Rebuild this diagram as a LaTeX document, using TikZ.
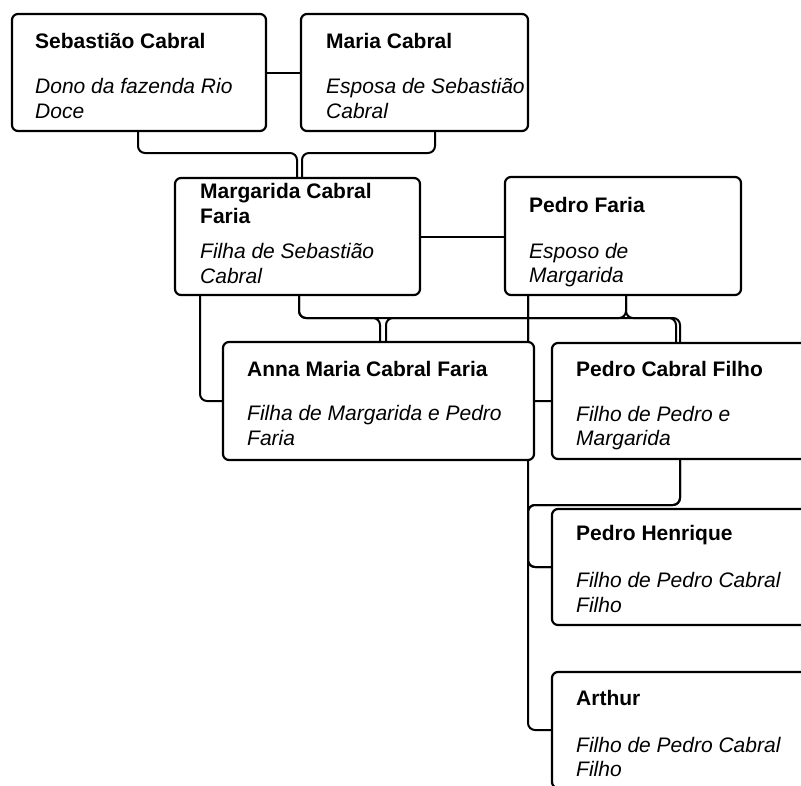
\documentclass[tikz,border=0pt]{standalone}
\usepackage{fontspec}
\setmainfont{Liberation Sans}
\usetikzlibrary{backgrounds}
\tikzset{
  box/.style={draw=black, line width=2.2pt, rounded corners=6pt, fill=white, anchor=north west, inner sep=0pt, outer sep=0pt},
  conn/.style={draw=black, line width=2pt, rounded corners=7pt},
  nm/.style={font=\fontsize{21}{24}\selectfont\bfseries, inner sep=0pt, anchor=base west},
  ds/.style={font=\fontsize{21}{24}\selectfont\itshape, inner sep=0pt, anchor=base west},
}
\begin{document}
\begin{tikzpicture}[x=1pt,y=-1pt]
\useasboundingbox (0,0) rectangle (801,785);
\clip (0,0) rectangle (801,785);
% boxes
\node[box, minimum width=254pt, minimum height=117pt] (seb) at (12,14) {};
\node[box, minimum width=227pt, minimum height=117pt] (maria) at (301,14) {};
\node[box, minimum width=245pt, minimum height=117pt] (marg) at (175,178) {};
\node[box, minimum width=236pt, minimum height=118pt] (pedro) at (505,177) {};
\node[box, minimum width=311pt, minimum height=118pt] (anna) at (223,342) {};
\node[box, minimum width=300pt, minimum height=116pt] (pcf) at (552,343) {};
\node[box, minimum width=300pt, minimum height=116pt] (ph) at (552,509) {};
\node[box, minimum width=300pt, minimum height=116pt] (arthur) at (552,672) {};
% texts
\node[nm] (t1) at (35,48) {Sebastião Cabral};
\node[ds] (t2) at (35,93) {Dono da fazenda Rio};
\node[ds] (t3) at (35,118) {Doce};
\node[nm] (t4) at (326,48) {Maria Cabral};
\node[ds] (t5) at (326,93) {Esposa de Sebastião};
\node[ds] (t6) at (326,118) {Cabral};
\node[nm] (t7) at (200,198) {Margarida Cabral};
\node[nm] (t8) at (200,223) {Faria};
\node[ds] (t9) at (200,258) {Filha de Sebastião};
\node[ds] (t10) at (200,283) {Cabral};
\node[nm] (t11) at (529,212) {Pedro Faria};
\node[ds] (t12) at (529,258) {Esposo de};
\node[ds] (t13) at (529,282) {Margarida};
\node[nm] (t14) at (247,376) {Anna Maria Cabral Faria};
\node[ds] (t15) at (247,420) {Filha de Margarida e Pedro};
\node[ds] (t16) at (247,445) {Faria};
\node[nm] (t17) at (576,376) {Pedro Cabral Filho};
\node[ds] (t18) at (576,421) {Filho de Pedro e};
\node[ds] (t19) at (576,445) {Margarida};
\node[nm] (t20) at (576,540) {Pedro Henrique};
\node[ds] (t21) at (576,587) {Filho de Pedro Cabral};
\node[ds] (t22) at (576,612) {Filho};
\node[nm] (t23) at (576,705) {Arthur};
\node[ds] (t24) at (576,752) {Filho de Pedro Cabral};
\node[ds] (t25) at (576,776) {Filho};
% connectors
\begin{pgfonlayer}{background}
\draw[conn] (seb.east) -- (seb.east -| maria.west);
\draw[conn] (marg.east) -- (marg.east -| pedro.west);
\draw[conn] ([xshift=126pt]seb.south west) -- ++(0,22) -| ([xshift=122pt]marg.north west);
\draw[conn] ([xshift=134pt]maria.south west) -- ++(0,22) -| ([xshift=127pt]marg.north west);
\draw[conn] ([xshift=124pt]marg.south west) -- ++(0,23) -| ([xshift=157pt]anna.north west);
\draw[conn] ([xshift=124pt]marg.south west) -- ++(0,23) -| ([xshift=124pt]pcf.north west);
\draw[conn] ([xshift=121pt]pedro.south west) -- ++(0,23) -| ([xshift=163pt]anna.north west);
\draw[conn] ([xshift=121pt]pedro.south west) -- ++(0,23) -| ([xshift=128pt]pcf.north west);
\draw[conn] ([xshift=25pt]marg.south west) |- (anna.west);
\draw[conn] ([xshift=23pt]pedro.south west) |- (pcf.west);
\draw[conn] ([xshift=23pt]pedro.south west) |- (ph.west);
\draw[conn] ([xshift=128pt]pcf.south west) |- ([xshift=-24pt,yshift=-46pt]pcf.south west) |- (ph.west);
\draw[conn] ([xshift=128pt]pcf.south west) |- ([xshift=-24pt,yshift=-46pt]pcf.south west) |- (arthur.west);
\end{pgfonlayer}
\end{tikzpicture}
\end{document}
